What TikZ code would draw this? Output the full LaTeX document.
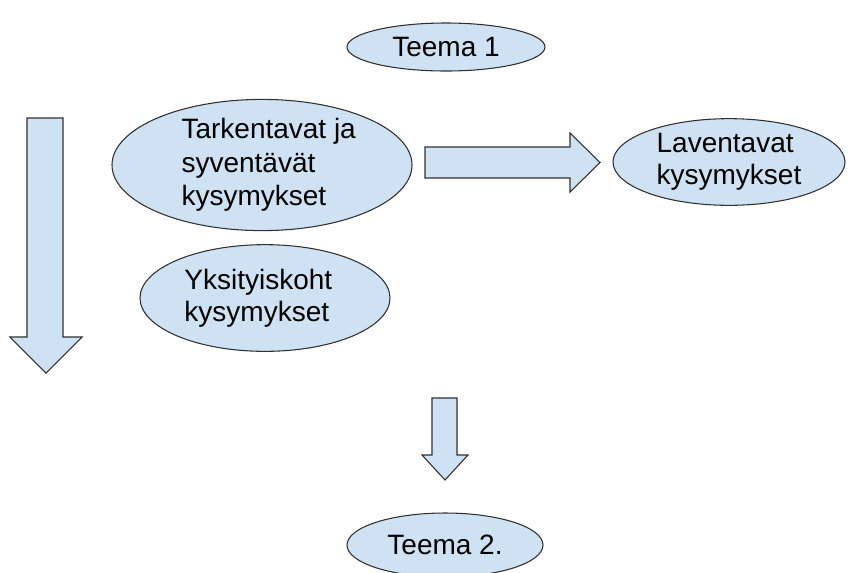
\documentclass[tikz,border=0pt]{standalone}
\usepackage{fontspec}
\setmainfont{Liberation Sans}
\usetikzlibrary{shapes.geometric}
\definecolor{palefill}{HTML}{CFE2F3}
\definecolor{edgegray}{HTML}{303030}
\newcommand{\padl}{\hspace*{10pt}}
\newcommand{\padr}{\hspace*{-10pt}}
\tikzset{
    bubble/.style={ellipse, draw=edgegray, fill=palefill, line width=0.8pt, inner sep=0pt,
        align=left, font=\fontsize{21}{24}\selectfont},
    blockarrow/.style={draw=edgegray, fill=palefill, line width=0.8pt, line join=miter}
}
\begin{document}
\begin{tikzpicture}[x=0.75pt,y=-0.75pt]
    \useasboundingbox (0,0) rectangle (848,572);
    % themes
    \node[bubble, minimum width=148.5pt, minimum height=36pt] (teema1) at (446,47) {Teema 1};
    \node[bubble, minimum width=147pt, minimum height=48pt] (teema2) at (445,545) {Teema 2.};
    % questions
    \node[bubble, minimum width=225pt, minimum height=96pt, font=\fontsize{21}{25}\selectfont] (tarkentavat) at (262,165)
        {\padl Tarkentavat ja\\\padl syventävät\\\padl kysymykset};
    \node[bubble, minimum width=174pt, minimum height=65pt] (laventavat) at (729,162) {Laventavat\\kysymykset};
    \node[bubble, minimum width=187.5pt, minimum height=80pt] (yksityiskoht) at (265,298)
        {\padr Yksityiskoht\\\padr kysymykset};
    % block arrows
    \draw[blockarrow] (425,147) -- (570,147) -- (570,133) -- (600,162.5) -- (570,192) -- (570,178) -- (425,178) -- cycle;
    \draw[blockarrow] (27,118) -- (63,118) -- (63,337) -- (82,337) -- (46,373) -- (10,337) -- (27,337) -- cycle;
    \draw[blockarrow] (432,398) -- (457,398) -- (457,455) -- (468,455) -- (445,480) -- (422,455) -- (432,455) -- cycle;
\end{tikzpicture}
\end{document}
